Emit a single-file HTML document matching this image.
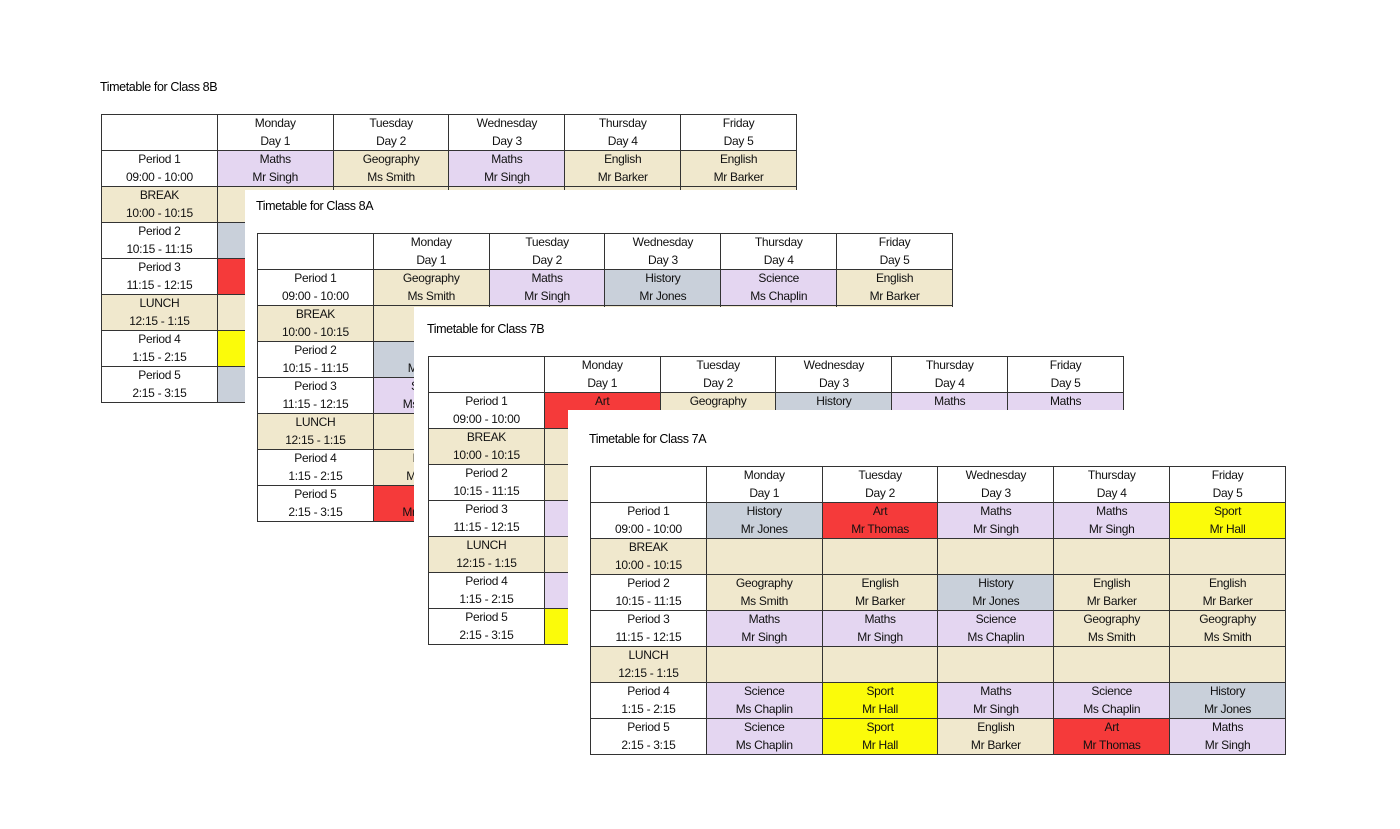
<!DOCTYPE html>
<html><head><meta charset="utf-8"><style>
body{margin:0;width:1400px;height:829px;background:#fff;position:relative;overflow:hidden;font-family:"Liberation Sans",Arial,sans-serif;}
.p{position:absolute;background:#fff;}
.t{position:absolute;font-size:12.5px;color:#000;letter-spacing:-0.4px;}
table{position:absolute;border-collapse:collapse;table-layout:fixed;width:696px;}
td{border:1px solid #333;height:35.5px;padding:0;text-align:center;vertical-align:bottom;font-size:12px;line-height:17.5px;color:#111;letter-spacing:-0.3px;overflow:hidden;white-space:nowrap;box-sizing:border-box;}
tr.h td{height:36px;}
.L{background:#e4d6f1}.B{background:#f0e8cd}.G{background:#c9d0da}.R{background:#f53a3a}.Y{background:#fbfb0a}
</style></head><body>

<div class="t" style="left:100px;top:80px">Timetable for Class 8B</div>
<table style="left:101px;top:114px">
<tr class="h"><td></td><td>Monday<br>Day 1</td><td>Tuesday<br>Day 2</td><td>Wednesday<br>Day 3</td><td>Thursday<br>Day 4</td><td>Friday<br>Day 5</td></tr>
<tr><td>Period 1<br>09:00 - 10:00</td><td class="L">Maths<br>Mr Singh</td><td class="B">Geography<br>Ms Smith</td><td class="L">Maths<br>Mr Singh</td><td class="B">English<br>Mr Barker</td><td class="B">English<br>Mr Barker</td></tr>
<tr><td class="B">BREAK<br>10:00 - 10:15</td><td class="B"></td><td class="B"></td><td class="B"></td><td class="B"></td><td class="B"></td></tr>
<tr><td>Period 2<br>10:15 - 11:15</td><td class="G"></td><td></td><td></td><td></td><td></td></tr>
<tr><td>Period 3<br>11:15 - 12:15</td><td class="R"></td><td></td><td></td><td></td><td></td></tr>
<tr><td class="B">LUNCH<br>12:15 - 1:15</td><td class="B"></td><td class="B"></td><td class="B"></td><td class="B"></td><td class="B"></td></tr>
<tr><td>Period 4<br>1:15 - 2:15</td><td class="Y"></td><td></td><td></td><td></td><td></td></tr>
<tr><td>Period 5<br>2:15 - 3:15</td><td class="G"></td><td></td><td></td><td></td><td></td></tr>
</table>

<div class="p" style="left:245px;top:190px;width:730px;height:340px"></div>
<div class="t" style="left:256px;top:199px">Timetable for Class 8A</div>
<table style="left:257px;top:233px">
<tr class="h"><td></td><td>Monday<br>Day 1</td><td>Tuesday<br>Day 2</td><td>Wednesday<br>Day 3</td><td>Thursday<br>Day 4</td><td>Friday<br>Day 5</td></tr>
<tr><td>Period 1<br>09:00 - 10:00</td><td class="B">Geography<br>Ms Smith</td><td class="L">Maths<br>Mr Singh</td><td class="G">History<br>Mr Jones</td><td class="L">Science<br>Ms Chaplin</td><td class="B">English<br>Mr Barker</td></tr>
<tr><td class="B">BREAK<br>10:00 - 10:15</td><td class="B"></td><td class="B"></td><td class="B"></td><td class="B"></td><td class="B"></td></tr>
<tr><td>Period 2<br>10:15 - 11:15</td><td class="G">Maths<br>Mr Jones</td><td></td><td></td><td></td><td></td></tr>
<tr><td>Period 3<br>11:15 - 12:15</td><td class="L">Science<br>Ms Chaplin</td><td></td><td></td><td></td><td></td></tr>
<tr><td class="B">LUNCH<br>12:15 - 1:15</td><td class="B"></td><td class="B"></td><td class="B"></td><td class="B"></td><td class="B"></td></tr>
<tr><td>Period 4<br>1:15 - 2:15</td><td class="B">English<br>Mr Barker</td><td></td><td></td><td></td><td></td></tr>
<tr><td>Period 5<br>2:15 - 3:15</td><td class="R">Art<br>Mr Thomas</td><td></td><td></td><td></td><td></td></tr>
</table>

<div class="p" style="left:414px;top:307px;width:730px;height:345px"></div>
<div class="t" style="left:427px;top:322px">Timetable for Class 7B</div>
<table style="left:428px;top:356px">
<tr class="h"><td></td><td>Monday<br>Day 1</td><td>Tuesday<br>Day 2</td><td>Wednesday<br>Day 3</td><td>Thursday<br>Day 4</td><td>Friday<br>Day 5</td></tr>
<tr><td>Period 1<br>09:00 - 10:00</td><td class="R">Art<br>Mr Thomas</td><td class="B">Geography<br>Ms Smith</td><td class="G">History<br>Mr Jones</td><td class="L">Maths<br>Mr Singh</td><td class="L">Maths<br>Mr Singh</td></tr>
<tr><td class="B">BREAK<br>10:00 - 10:15</td><td class="B"></td><td class="B"></td><td class="B"></td><td class="B"></td><td class="B"></td></tr>
<tr><td>Period 2<br>10:15 - 11:15</td><td class="B"></td><td></td><td></td><td></td><td></td></tr>
<tr><td>Period 3<br>11:15 - 12:15</td><td class="L"></td><td></td><td></td><td></td><td></td></tr>
<tr><td class="B">LUNCH<br>12:15 - 1:15</td><td class="B"></td><td class="B"></td><td class="B"></td><td class="B"></td><td class="B"></td></tr>
<tr><td>Period 4<br>1:15 - 2:15</td><td class="L"></td><td></td><td></td><td></td><td></td></tr>
<tr><td>Period 5<br>2:15 - 3:15</td><td class="Y"></td><td></td><td></td><td></td><td></td></tr>
</table>

<div class="p" style="left:568px;top:410px;width:740px;height:360px"></div>
<div class="t" style="left:589px;top:432px">Timetable for Class 7A</div>
<table style="left:590px;top:466px">
<tr class="h"><td></td><td>Monday<br>Day 1</td><td>Tuesday<br>Day 2</td><td>Wednesday<br>Day 3</td><td>Thursday<br>Day 4</td><td>Friday<br>Day 5</td></tr>
<tr><td>Period 1<br>09:00 - 10:00</td><td class="G">History<br>Mr Jones</td><td class="R">Art<br>Mr Thomas</td><td class="L">Maths<br>Mr Singh</td><td class="L">Maths<br>Mr Singh</td><td class="Y">Sport<br>Mr Hall</td></tr>
<tr><td class="B">BREAK<br>10:00 - 10:15</td><td class="B"></td><td class="B"></td><td class="B"></td><td class="B"></td><td class="B"></td></tr>
<tr><td>Period 2<br>10:15 - 11:15</td><td class="B">Geography<br>Ms Smith</td><td class="B">English<br>Mr Barker</td><td class="G">History<br>Mr Jones</td><td class="B">English<br>Mr Barker</td><td class="B">English<br>Mr Barker</td></tr>
<tr><td>Period 3<br>11:15 - 12:15</td><td class="L">Maths<br>Mr Singh</td><td class="L">Maths<br>Mr Singh</td><td class="L">Science<br>Ms Chaplin</td><td class="B">Geography<br>Ms Smith</td><td class="B">Geography<br>Ms Smith</td></tr>
<tr><td class="B">LUNCH<br>12:15 - 1:15</td><td class="B"></td><td class="B"></td><td class="B"></td><td class="B"></td><td class="B"></td></tr>
<tr><td>Period 4<br>1:15 - 2:15</td><td class="L">Science<br>Ms Chaplin</td><td class="Y">Sport<br>Mr Hall</td><td class="L">Maths<br>Mr Singh</td><td class="L">Science<br>Ms Chaplin</td><td class="G">History<br>Mr Jones</td></tr>
<tr><td>Period 5<br>2:15 - 3:15</td><td class="L">Science<br>Ms Chaplin</td><td class="Y">Sport<br>Mr Hall</td><td class="B">English<br>Mr Barker</td><td class="R">Art<br>Mr Thomas</td><td class="L">Maths<br>Mr Singh</td></tr>
</table>
</body></html>
